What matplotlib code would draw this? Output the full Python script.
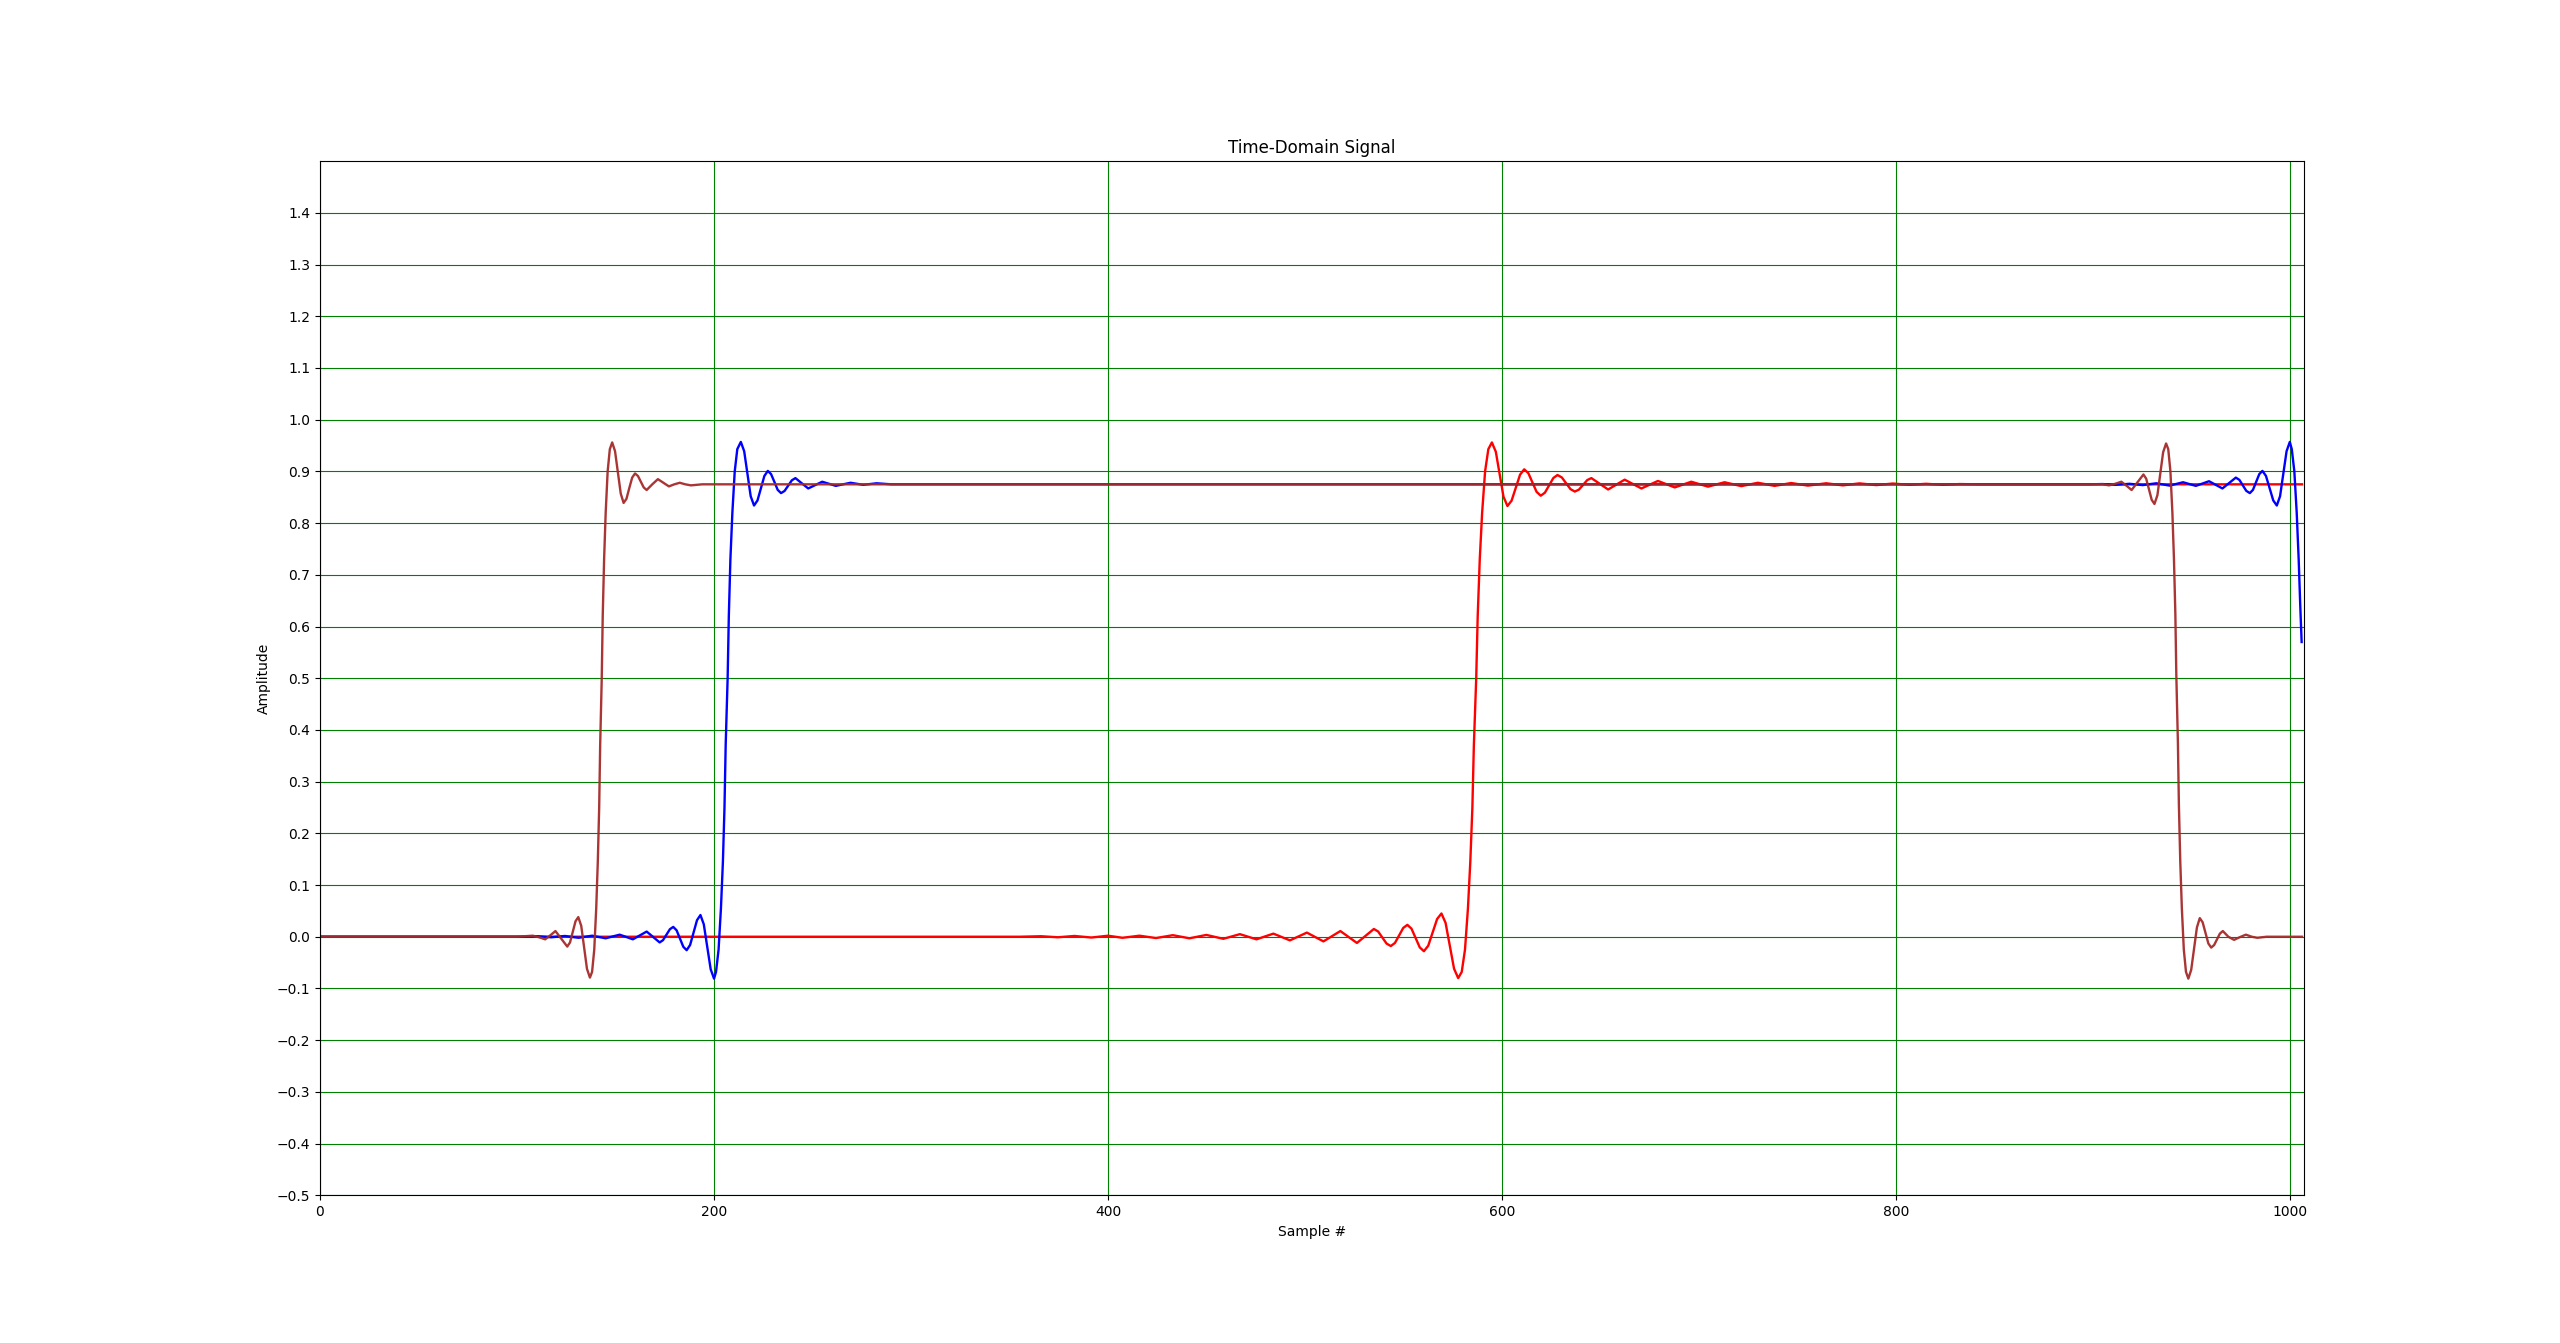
import numpy as np
import matplotlib
matplotlib.use('Agg')
import matplotlib.pyplot as plt

# values (sample index, amplitude)
red_x = [0, 355, 366, 374.5, 383, 391.5, 400, 407.3, 415.9, 424.3, 432.9, 441.3, 449.9, 458.5,
         466.9, 475.3, 483.9, 492.3, 500.9, 509.3, 517.9, 526.3, 530.6, 534.9, 537.05, 539.2,
         541.35, 543.5, 545.6, 547.7, 549.8, 551.9, 554, 556.1, 558.2, 560.3, 562.5, 564.75,
         567, 569.2, 571.3, 573.45, 575.6, 577.7, 579.5, 581.15, 582.65, 583.85, 584.9, 585.65,
         586.85, 587.6, 588.65, 589.85, 591.35, 593, 594.8, 596.8, 598.75, 600.7, 602.7, 604.8,
         606.95, 609.1, 611.2, 613.3, 615.4, 617.5, 619.6, 621.7, 623.85, 626, 628.1, 630.3,
         632.5, 634.7, 636.9, 639, 641.1, 643.2, 645.3, 649.55, 653.8, 658, 662.2, 670.7, 679.1,
         687.6, 696, 704.5, 712.9, 721.4, 729.8, 738.3, 746.7, 755.2, 764.5, 772.9, 781.4,
         789.9, 798.3, 806.8, 815.2, 823.7, 832.1, 842, 1006]
red_y = [0, 0, 0.001, -0.001, 0.0015, -0.0015, 0.002, -0.002, 0.002, -0.0025, 0.003, -0.003,
         0.0035, -0.004, 0.005, -0.005, 0.006, -0.007, 0.008, -0.009, 0.011, -0.012, 0.0015,
         0.015, 0.0102, -0.0015, -0.0132, -0.018, -0.012, 0.0025, 0.017, 0.023, 0.0156, -0.0025,
         -0.0206, -0.028, -0.0173, 0.0085, 0.0343, 0.045, 0.0268, -0.0175, -0.0618, -0.080,
         -0.068, -0.025, 0.055, 0.145, 0.25, 0.37, 0.5, 0.62, 0.73, 0.82, 0.9, 0.943, 0.956,
         0.938, 0.8945, 0.851, 0.833, 0.8434, 0.8685, 0.8936, 0.904, 0.8966, 0.8785, 0.8604,
         0.853, 0.8588, 0.873, 0.8872, 0.893, 0.8883, 0.877, 0.8657, 0.861, 0.8648, 0.874,
         0.8832, 0.887, 0.876, 0.865, 0.8745, 0.884, 0.867, 0.8815, 0.869, 0.880, 0.8705,
         0.879, 0.8715, 0.878, 0.872, 0.8775, 0.8725, 0.877, 0.873, 0.8768, 0.8735, 0.8765,
         0.874, 0.876, 0.874, 0.8755, 0.875, 0.875]

blue_x = [0, 104, 110.5, 117.4, 124.3, 131.2, 138.1, 145, 148.5, 152.1, 155.5, 158.8, 162.3,
          165.8, 169.1, 172.4, 174.1, 175.85, 177.6, 179.3, 181, 182.7, 184.4, 186.1, 187.85,
          189.6, 191.35, 193.1, 194.8, 196.55, 198.3, 200, 201, 202.3, 203.5, 204.5, 205.3,
          205.9, 206.9, 207.5, 208.3, 209.3, 210.5, 211.8, 213.6, 215.3, 216.95, 218.6, 220.3,
          222.05, 223.8, 225.55, 227.3, 228.95, 230.65, 232.3, 234, 235.8, 237.65, 239.5, 241.3,
          244.55, 247.8, 251.35, 254.9, 258.35, 261.8, 265.5, 269.3, 275.7, 282.5, 290, 898,
          904.7, 911.5, 918.4, 925.2, 932, 938.8, 945.6, 952.1, 958.8, 962.2, 965.6, 969, 972.4,
          974.2, 975.95, 977.7, 979.5, 981.1, 982.7, 984.3, 985.9, 987.7, 989.55, 991.4, 993.2,
          994.85, 996.5, 998.15, 999.8, 1000.8, 1002.1, 1003.3, 1004.3, 1005.1, 1005.8]
blue_y = [0, 0, 0.001, -0.001, 0.0015, -0.002, 0.002, -0.003, 0.0005, 0.004, -0.0005, -0.005,
          0.0025, 0.010, -0.0005, -0.011, -0.0066, 0.004, 0.0146, 0.019, 0.0124, -0.0035,
          -0.0194, -0.026, -0.016, 0.008, 0.032, 0.042, 0.024, -0.0195, -0.063, -0.081, -0.068,
          -0.025, 0.055, 0.145, 0.25, 0.37, 0.5, 0.62, 0.73, 0.82, 0.9, 0.943, 0.957, 0.939,
          0.8955, 0.852, 0.834, 0.8438, 0.8675, 0.8912, 0.901, 0.8947, 0.8795, 0.8643, 0.858,
          0.8622, 0.8725, 0.8828, 0.887, 0.877, 0.867, 0.8735, 0.880, 0.876, 0.872, 0.875,
          0.878, 0.874, 0.877, 0.875, 0.875, 0.8755, 0.874, 0.876, 0.8735, 0.877, 0.8725,
          0.879, 0.872, 0.881, 0.874, 0.867, 0.8775, 0.888, 0.8836, 0.873, 0.8624, 0.858,
          0.8643, 0.8795, 0.8947, 0.901, 0.8912, 0.8675, 0.8438, 0.834, 0.852, 0.8955, 0.939,
          0.957, 0.943, 0.900, 0.820, 0.730, 0.640, 0.57]

brown_x = [0, 100, 104, 108, 111.2, 114.3, 117, 119.5, 122.5, 125.5, 126.9, 128.3, 129.7,
           131.1, 132.6, 134.05, 135.5, 137, 138.1, 139.2, 140.2, 141, 141.7, 142.2, 143, 143.5,
           144.2, 145, 146, 147.1, 148.3, 149.75, 151.2, 152.65, 154.1, 155.55, 157, 158.45,
           159.9, 161.4, 162.85, 164.3, 165.8, 168.65, 171.5, 174.3, 177.1, 179.85, 182.6, 185.4,
           188.3, 194, 905, 908, 911.2, 914.3, 917, 919.5, 922.5, 925.5, 926.9, 928.3, 929.7,
           931.1, 932.6, 934.05, 935.5, 937, 938.1, 939.2, 940.2, 941, 941.7, 942.2, 943, 943.5,
           944.2, 945, 946, 947.1, 948.3, 949.75, 951.2, 952.65, 954.1, 955.55, 957, 958.45,
           959.9, 961.4, 962.85, 964.3, 965.8, 968.6, 971.5, 974.3, 977.5, 980.5, 983.3, 988,
           1006]
brown_y = [0, 0, 0.001, 0.002, -0.001, -0.005, 0.003, 0.011, -0.004, -0.019, -0.011, 0.0095,
           0.030, 0.038, 0.021, -0.0205, -0.062, -0.079, -0.068, -0.025, 0.055, 0.145, 0.25,
           0.37, 0.5, 0.62, 0.73, 0.82, 0.9, 0.943, 0.956, 0.939, 0.898, 0.857, 0.839, 0.847,
           0.868, 0.888, 0.896, 0.891, 0.880, 0.869, 0.864, 0.875, 0.885, 0.878, 0.871, 0.875,
           0.878, 0.875, 0.873, 0.875, 0.875, 0.873, 0.876, 0.880, 0.872, 0.864, 0.879, 0.894,
           0.886, 0.8655, 0.845, 0.837, 0.854, 0.8955, 0.937, 0.954, 0.943, 0.900, 0.820, 0.730,
           0.625, 0.505, 0.375, 0.255, 0.145, 0.055, -0.025, -0.068, -0.081, -0.064, -0.023,
           0.018, 0.036, 0.028, 0.0075, -0.013, -0.021, -0.016, -0.005, 0.006, 0.011, 0.0,
           -0.006, -0.001, 0.004, 0.0, -0.002, 0.0, 0.0]

y_ticks = np.arange(-5, 15) / 10

fig = plt.figure(figsize=(25.6, 13.43), dpi=100)
ax = fig.add_subplot(111)

ax.plot(red_x, red_y, color='r', lw=1.7)
ax.plot(blue_x, blue_y, color='b', lw=1.7)
ax.plot(brown_x, brown_y, color='brown', lw=1.7, alpha=0.95)

ax.set_xlim(0, 1007)
ax.set_ylim(-0.5, 1.5)
ax.set_yticks(y_ticks)
ax.grid(color='g')

ax.set_title('Time-Domain Signal')
ax.set_xlabel('Sample #')
ax.set_ylabel('Amplitude')

fig.savefig('out.png', dpi=100)
